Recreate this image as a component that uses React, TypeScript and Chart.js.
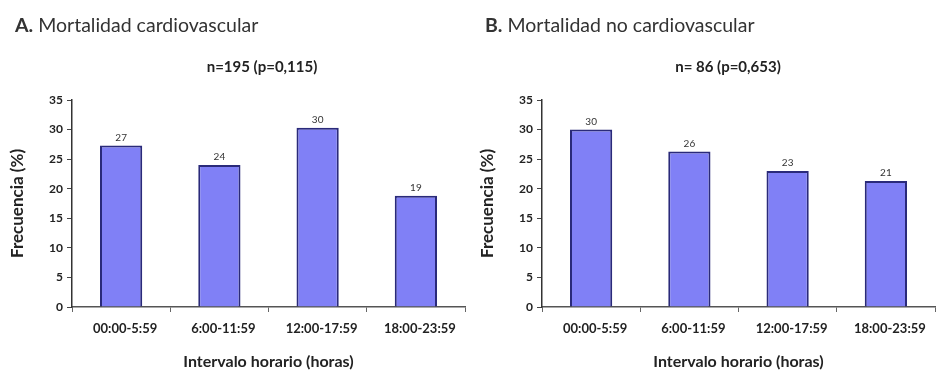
import React, { useEffect, useRef } from "react";
import { Chart, registerables } from "chart.js";

Chart.register(...registerables);

const categories = ["00:00-5:59", "6:00-11:59", "12:00-17:59", "18:00-23:59"];
const cardioValues = [27.3, 24, 30.3, 18.8];
const cardioLabels = ["27", "24", "30", "19"];
const nonCardioValues = [30, 26.3, 23, 21.3];
const nonCardioLabels = ["30", "26", "23", "21"];
const yTicks = [0, 5, 10, 15, 20, 25, 30, 35];

const FONT = "Lato, 'Open Sans', sans-serif";

const barLabelPlugin = {
  id: "barLabels",
  afterDatasetsDraw(chart: any) {
    const labels: string[] = chart.options.plugins.barLabels.labels;
    const meta = chart.getDatasetMeta(0);
    const ctx = chart.ctx;
    ctx.save();
    ctx.font = `10px ${FONT}`;
    ctx.fillStyle = "#333";
    ctx.textAlign = "center";
    ctx.textBaseline = "middle";
    meta.data.forEach((bar: any, i: number) => {
      ctx.fillText(labels[i], bar.x, bar.y - 8);
    });
    ctx.restore();
  },
};

function Panel({ values, labels }: { values: number[]; labels: string[] }) {
  const ref = useRef<HTMLCanvasElement | null>(null);
  useEffect(() => {
    if (!ref.current) return;
    const chart = new Chart(ref.current, {
      type: "bar",
      data: {
        labels: categories,
        datasets: [
          {
            data: values,
            backgroundColor: "#8080f6",
            borderColor: "#2a2a7a",
            borderWidth: 2,
            barPercentage: 0.86,
            categoryPercentage: 0.5,
          },
        ],
      },
      plugins: [barLabelPlugin],
      options: {
        animation: false,
        responsive: false,
        maintainAspectRatio: false,
        layout: { padding: { top: 100, right: 1, left: 0, bottom: 0 } },
        plugins: {
          legend: { display: false },
          tooltip: { enabled: false },
          barLabels: { labels },
        } as any,
        scales: {
          x: {
            offset: true,
            grid: {
              offset: true,
              drawOnChartArea: false,
              drawTicks: true,
              tickLength: 5,
              color: "#666",
            },
            border: { color: "#555", width: 1.5 },
            ticks: {
              padding: 9,
              labelOffset: 4,
              color: "#222",
              font: { family: FONT, size: 13, weight: "bold" },
              maxRotation: 0,
            },
            title: {
              display: true,
              text: "Intervalo horario (horas)",
              color: "#222",
              font: { family: FONT, size: 16, weight: "bold" },
              padding: { top: 0, bottom: 1 },
            },
            afterFit(scale: any) {
              scale.height = 65;
            },
          },
          y: {
            min: 0,
            max: 35,
            afterBuildTicks(scale: any) {
              scale.ticks = yTicks.map((v) => ({ value: v }));
            },
            grid: {
              drawOnChartArea: false,
              drawTicks: true,
              tickLength: 5,
              color: "#444",
            },
            border: { color: "#333", width: 1.5 },
            ticks: {
              padding: 4,
              color: "#222",
              font: { family: FONT, size: 12, weight: "bold" },
            },
            title: {
              display: true,
              text: "Frecuencia (%)",
              color: "#222",
              font: { family: FONT, size: 17, weight: "bold" },
              padding: { top: 7, bottom: 0 },
            },
            afterFit(scale: any) {
              scale.width = 72;
            },
          },
        },
      } as any,
    });
    return () => chart.destroy();
  }, [values, labels]);
  return <canvas ref={ref} width={466} height={372} style={{ display: "block" }} />;
}

const titleStyle: React.CSSProperties = {
  position: "absolute",
  top: 14,
  fontFamily: FONT,
  fontSize: 19.5,
  color: "#333",
  whiteSpace: "nowrap",
  lineHeight: "22px",
};
const subStyle: React.CSSProperties = {
  position: "absolute",
  top: 57,
  fontFamily: FONT,
  fontSize: 15,
  fontWeight: "bold",
  color: "#222",
  whiteSpace: "nowrap",
  transform: "translateX(-50%)",
  lineHeight: "18px",
};

export default function App() {
  return (
    <div
      style={{
        position: "fixed",
        left: 0,
        top: 0,
        width: 936,
        height: 372,
        background: "#fff",
        overflow: "hidden",
      }}
    >
      <div style={{ position: "absolute", left: 0, top: 0 }}>
        <Panel values={cardioValues} labels={cardioLabels} />
      </div>
      <div style={{ position: "absolute", left: 470, top: 0 }}>
        <Panel values={nonCardioValues} labels={nonCardioLabels} />
      </div>
      <div style={{ ...titleStyle, left: 15 }}>
        <b>A.</b> Mortalidad cardiovascular
      </div>
      <div style={{ ...subStyle, left: 262 }}>n=195 (p=0,115)</div>
      <div style={{ ...titleStyle, left: 485 }}>
        <b>B.</b> Mortalidad no cardiovascular
      </div>
      <div style={{ ...subStyle, left: 728 }}>n= 86 (p=0,653)</div>
    </div>
  );
}
